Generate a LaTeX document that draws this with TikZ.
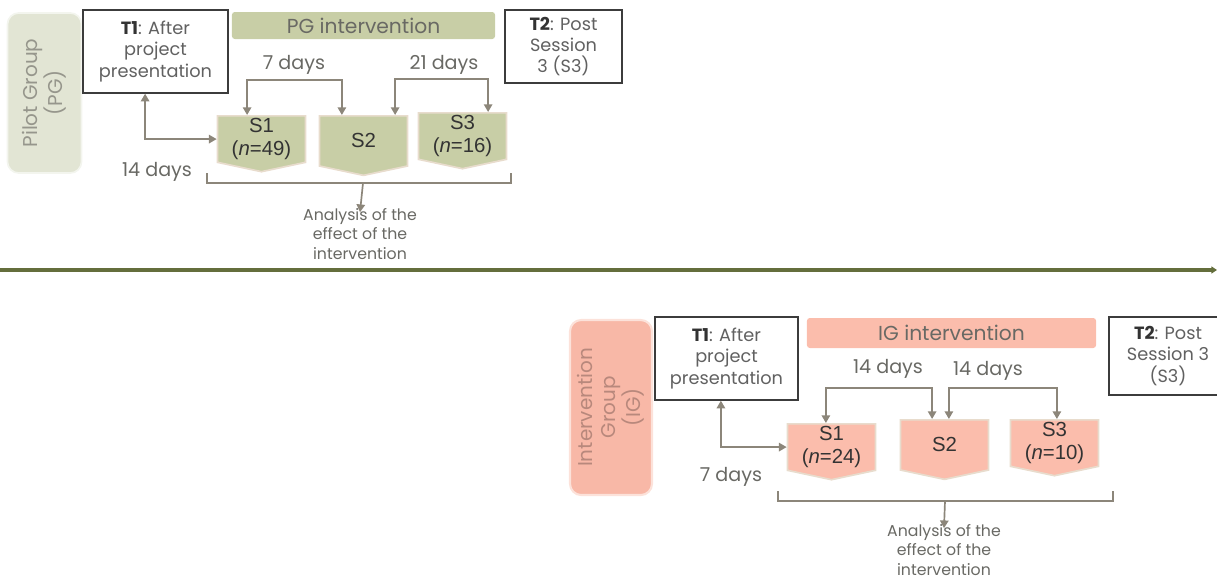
\documentclass[tikz,border=0pt]{standalone}
\usepackage{fontspec}
\setmainfont{Poppins}
\newfontfamily\arialfont{Liberation Sans}
\usetikzlibrary{arrows.meta,positioning,shapes.symbols}
\definecolor{pgOlive}{RGB}{200,206,166}
\definecolor{pgOliveLight}{RGB}{226,229,212}
\definecolor{pgGroupText}{RGB}{150,150,140}
\definecolor{igSalmon}{RGB}{251,189,172}
\definecolor{igSalmonGroup}{RGB}{248,184,167}
\definecolor{igSalmonEdge}{RGB}{252,226,218}
\definecolor{igGroupText}{RGB}{184,136,124}
\definecolor{chevEdge}{RGB}{232,220,205}
\definecolor{lnGray}{RGB}{140,134,122}
\definecolor{txGray}{RGB}{105,105,100}
\definecolor{boxEdge}{RGB}{60,60,60}
\definecolor{divOlive}{RGB}{100,110,60}

\begin{document}
\begin{tikzpicture}[x=0.025cm, y=-0.025cm,
  every node/.style={font=\fontsize{13.6}{16}\selectfont, text=txGray},
  timebox/.style={draw=boxEdge, line width=0.9pt, fill=white, align=center, inner sep=0pt, text=black!62,
    font=\fontsize{12.6}{15}\selectfont},
  groupbox/.style={rounded corners=8pt, align=center, inner sep=0pt, rotate=90, font=\fontsize{14.2}{16.5}\selectfont},
  phasebar/.style={rounded corners=2pt, inner sep=0pt, font=\fontsize{14.4}{16}\selectfont},
  session/.style={signal, signal to=south, signal pointer angle=156, draw=chevEdge, line width=1.2pt,
    minimum width=2.2cm, minimum height=1.32cm, align=center, inner sep=0pt,
    font=\arialfont\fontsize{14.5}{16.5}\selectfont, text=black!80},
  days/.style={inner sep=0pt},
  note/.style={align=center, inner sep=0pt, font=\fontsize{11.2}{14}\selectfont},
  link/.style={draw=lnGray, line width=1.2pt, >={Triangle[length=5.5pt,width=6pt]}},
  divider/.style={draw=divOlive, line width=2.2pt, -{Triangle[length=4pt,width=5pt]}}
]
\useasboundingbox (0,0) rectangle (1217,581);

% pilot group
\node[groupbox, fill=pgOliveLight, draw=white!60!pgOliveLight, line width=1.2pt, minimum width=4cm, minimum height=1.85cm, text=pgGroupText] (pg) at (44.5,93) {Pilot Group\\(PG)};
\node[timebox, minimum width=3.625cm, minimum height=2.075cm] (t1a) at (155.5,51.5) {{\color{black!80}\textbf{T1}}: After\\project\\presentation};
\node[phasebar, fill=pgOlive, minimum width=6.575cm, minimum height=0.675cm] (pgbar) at (363.5,25.5) {PG intervention};
\node[timebox, minimum width=2.925cm, minimum height=1.825cm] (t2a) at (563.5,46.5) {{\color{black!80}\textbf{T2}}: Post\\Session\\3 (S3)};

\node[session, fill=pgOlive, anchor=north] (s1a) at (261.5,115) {S1\\(\textit{n}=49)};
\node[session, fill=pgOlive, anchor=north] (s2a) at (363.5,115) {S2};
\node[session, fill=pgOlive, anchor=north] (s3a) at (462.5,112) {S3\\(\textit{n}=16)};

\node[days] (d7a) at (294,65) {7 days};
\node[days] (d21a) at (444,65) {21 days};
\node[days] (d14a) at (157,172) {14 days};

\draw[link,<->] ([xshift=-0.36cm]s1a.north) -- ++(0,-35) -| ([xshift=-0.54cm]s2a.north);
\draw[link,<->] ([xshift=0.79cm]s2a.north) -- ++(0,-36) -| ([xshift=0.64cm]s3a.north);
\draw[link,<->] ([xshift=-0.26cm]t1a.south) |- (s1a.west);

\coordinate (bla) at (207,173);
\coordinate (bra) at (511,173);
\coordinate (bma) at (363,183);
\draw[link] (bla) -- ++(0,10) -| (bra);
\node[note] (ana) at (360,234) {Analysis of the\\effect of the\\intervention};
\draw[link,->] (bma) -- ([yshift=-3pt]ana.north);

% divider
\coordinate (dvl) at (0,270);
\coordinate (dvr) at (1217,270);
\draw[divider] (dvl) -- (dvr);

% intervention group
\node[groupbox, fill=igSalmonGroup, draw=igSalmonEdge, line width=1.5pt, minimum width=4.375cm, minimum height=2.05cm, text=igGroupText] (ig) at (611,407.5) {Intervention\\Group\\(IG)};
\node[timebox, minimum width=3.575cm, minimum height=2.075cm] (t1b) at (726.5,358.5) {{\color{black!80}\textbf{T1}}: After\\project\\presentation};
\node[phasebar, fill=igSalmon, minimum width=7.225cm, minimum height=0.75cm] (igbar) at (951.5,333) {IG intervention};
\node[timebox, minimum width=2.95cm, minimum height=1.95cm] (t2b) at (1168,356) {{\color{black!80}\textbf{T2}}: Post\\Session 3\\(S3)};

\node[session, fill=igSalmon, anchor=north] (s1b) at (831.5,423) {S1\\(\textit{n}=24)};
\node[session, fill=igSalmon, anchor=north] (s2b) at (944.5,419) {S2};
\node[session, fill=igSalmon, anchor=north] (s3b) at (1054.5,419) {S3\\(\textit{n}=10)};

\node[days] (d14b) at (888,369) {14 days};
\node[days] (d14c) at (988,371) {14 days};
\node[days] (d7b) at (731,477) {7 days};

\draw[link,<->] ([xshift=-0.14cm]s1b.north) -- ++(0,-35) -| ([xshift=-0.31cm]s2b.north);
\draw[link,<->] ([xshift=0.11cm]s2b.north) -- ++(0,-31) -| ([xshift=0.06cm]s3b.north);
\draw[link,<->] ([xshift=-0.14cm]t1b.south) |- (s1b.west);

\coordinate (blb) at (778,491);
\coordinate (brb) at (1113,491);
\coordinate (bmb) at (945,501);
\draw[link] (blb) -- ++(0,10) -| (brb);
\node[note] (anb) at (944,550) {Analysis of the\\effect of the\\intervention};
\draw[link,->] (bmb) -- ([yshift=-3pt]anb.north);
\end{tikzpicture}
\end{document}
